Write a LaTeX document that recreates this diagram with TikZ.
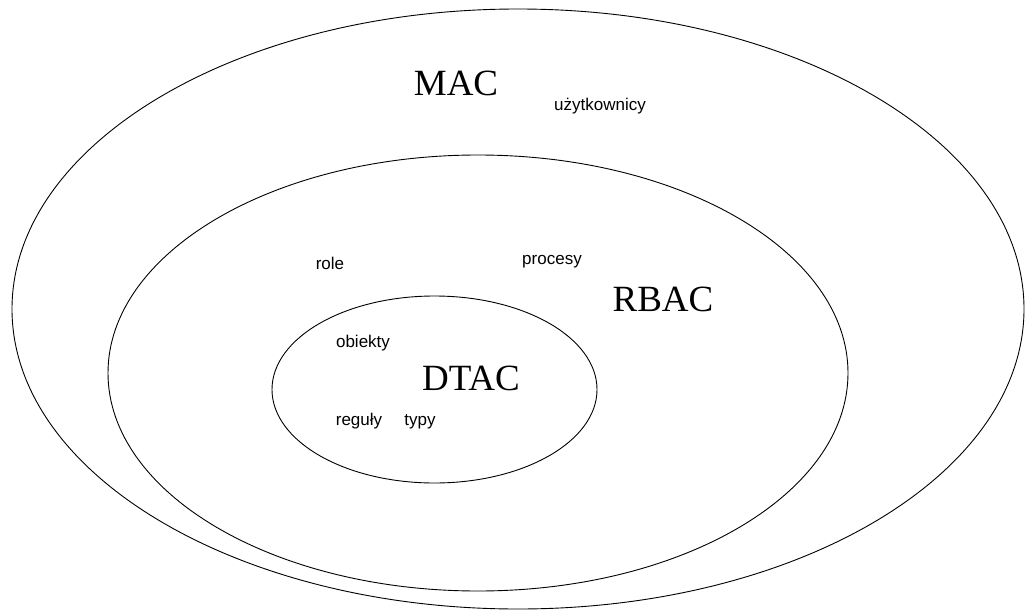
\documentclass[tikz,border=0pt]{standalone}
\usepackage{fontspec}
\setmainfont{Liberation Serif}
\newfontfamily\labelfont{Liberation Sans}
\begin{document}
\begin{tikzpicture}[x=1pt,y=-1pt,
  ring/.style={draw=black,line width=0.9pt},
  bigtitle/.style={font=\fontsize{37}{40}\selectfont,anchor=base,inner sep=0pt},
  word/.style={font=\labelfont\fontsize{17}{19}\selectfont,anchor=base,inner sep=0pt}]
\useasboundingbox (0,0) rectangle (1027,610);
\draw[ring] (518,309) ellipse [x radius=506, y radius=300];
\draw[ring] (478,373) ellipse [x radius=370, y radius=218];
\draw[ring] (434.5,389.5) ellipse [x radius=162.5, y radius=93.5];
\node[bigtitle] (mac) at (456,95) {MAC};
\node[bigtitle] (rbac) at (663,311) {RBAC};
\node[bigtitle] (dtac) at (471,390) {DTAC};
\node[word] (uzyt) at (600,110) {użytkownicy};
\node[word] (role) at (330,269) {role};
\node[word] (procesy) at (552,264) {procesy};
\node[word] (obiekty) at (363,347) {obiekty};
\node[word] (reguly) at (359,425) {reguły};
\node[word] (typy) at (420,425) {typy};
\end{tikzpicture}
\end{document}
